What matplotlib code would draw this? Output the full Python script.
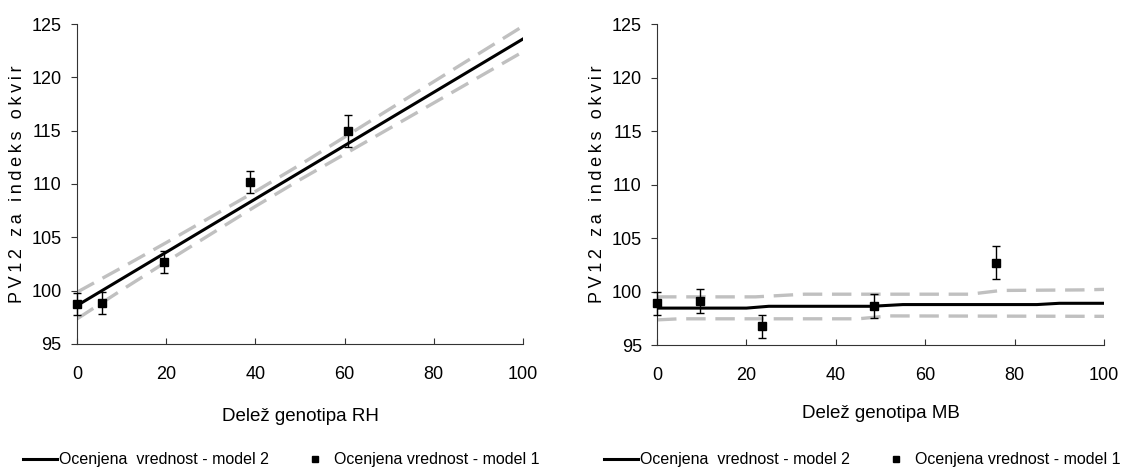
import matplotlib
matplotlib.use("Agg")
import matplotlib.pyplot as plt
from matplotlib.lines import Line2D

plt.rcParams["font.family"] = ["Liberation Sans", "DejaVu Sans"]
plt.rcParams["lines.scale_dashes"] = False

# -------------------------
# data: left panel (RH)
# -------------------------
rh_x = [0, 10, 20, 30, 40, 50, 60, 70, 80, 90, 100]
rh_fit = [98.6, 101.1, 103.6, 106.1, 108.6, 111.1, 113.6, 116.1, 118.6, 121.1, 123.6]
rh_upper = [99.85, 102.15, 104.5, 106.9, 109.3, 111.8, 114.4, 117.0, 119.6, 122.2, 124.8]
rh_lower = [97.35, 100.05, 102.7, 105.3, 107.9, 110.4, 112.8, 115.2, 117.6, 120.0, 122.4]

rh_pts_x = [0, 5.7, 19.5, 38.7, 60.7]
rh_pts_y = [98.75, 98.85, 102.7, 110.2, 115.0]
rh_pts_err = [1.0, 1.0, 1.05, 1.05, 1.5]

# -------------------------
# data: right panel (MB)
# -------------------------
mb_x = [0, 20, 25, 48, 55, 85, 90, 100]
mb_fit = [98.45, 98.45, 98.62, 98.62, 98.78, 98.78, 98.9, 98.9]

mb_up_x = [0, 22, 33, 70, 77, 95, 100]
mb_upper = [99.5, 99.5, 99.75, 99.75, 100.1, 100.15, 100.2]

mb_lo_x = [0, 5, 45, 52, 100]
mb_lower = [97.35, 97.45, 97.45, 97.72, 97.68]

mb_pts_x = [0, 9.5, 23.4, 48.6, 75.9]
mb_pts_y = [98.9, 99.1, 96.75, 98.65, 102.7]
mb_pts_err = [1.05, 1.1, 1.1, 1.15, 1.55]

YLABEL = "PV12 za indeks okvir"
LEGEND_LABELS = ["Ocenjena  vrednost - model 2", "Ocenjena vrednost - model 1"]

FS = 13
GRAY = "#c0c0c0"

fig = plt.figure(figsize=(11.35, 4.67), dpi=100)
ax1 = fig.add_axes([0.0678, 0.2634, 0.3930, 0.6852])
ax2 = fig.add_axes([0.5789, 0.2612, 0.3938, 0.6874])


def draw_panel(ax, fx, fy, ux, uy, lx, ly, px, py, pe, xlabel, xlabel_pad):
    ax.plot(ux, uy, color=GRAY, linewidth=2.4, dashes=(14, 7), zorder=2)
    ax.plot(lx, ly, color=GRAY, linewidth=2.4, dashes=(14, 7), zorder=2)
    ax.plot(fx, fy, color="black", linewidth=2.2, zorder=3)
    ax.errorbar(px, py, yerr=pe, fmt="s", color="black", markersize=6,
                ecolor="black", elinewidth=1, capsize=3, capthick=1, zorder=4,
                clip_on=False)

    ax.set_xlim(0, 100)
    ax.set_ylim(95, 125)
    ax.set_xticks(range(0, 101, 20))
    ax.set_yticks(range(95, 126, 5))
    ax.spines["top"].set_visible(False)
    ax.spines["right"].set_visible(False)
    ax.spines["left"].set_linewidth(0.8)
    ax.spines["bottom"].set_linewidth(0.8)
    ax.spines["left"].set_color("#333333")
    ax.spines["bottom"].set_color("#333333")
    ax.tick_params(axis="x", direction="in", length=4, width=0.8, pad=16,
                   labelsize=FS, color="#333333")
    ax.tick_params(axis="y", direction="out", length=4, width=0.8, pad=7,
                   labelsize=FS, color="#333333")
    ax.set_xlabel(xlabel, fontsize=13.5, labelpad=xlabel_pad)
    ax.set_ylabel("\u2009".join(YLABEL), fontsize=FS, labelpad=4)


draw_panel(ax1, rh_x, rh_fit, rh_x, rh_upper, rh_x, rh_lower,
           rh_pts_x, rh_pts_y, rh_pts_err, "Delež genotipa RH", 18)
draw_panel(ax2, mb_x, mb_fit, mb_up_x, mb_upper, mb_lo_x, mb_lower,
           mb_pts_x, mb_pts_y, mb_pts_err, "Delež genotipa MB", 15)

handles = [
    Line2D([], [], color="black", linewidth=2.2),
    Line2D([], [], color="black", marker="s", linestyle="none", markersize=5),
]

for ax, x0 in [(ax1, 0.0203), (ax2, 0.532)]:
    ax.legend(handles, LEGEND_LABELS, loc="center left", bbox_to_anchor=(x0, 0.015),
              bbox_transform=fig.transFigure, ncol=2, frameon=False,
              fontsize=11.5, handlelength=2.13, handletextpad=0.15,
              columnspacing=1.8, borderpad=0, borderaxespad=0)

fig.savefig("out.png", dpi=100)
